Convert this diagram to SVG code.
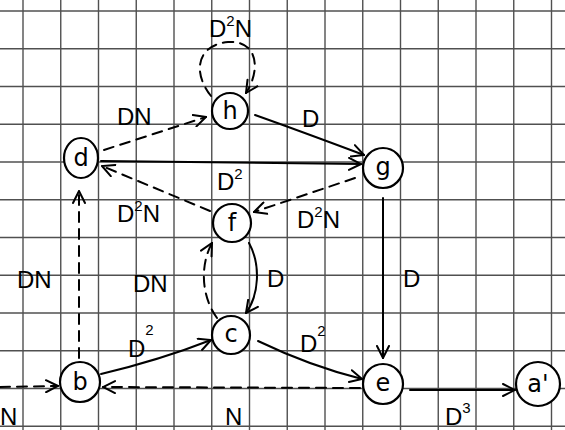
<svg xmlns="http://www.w3.org/2000/svg" width="565" height="430" viewBox="0 0 565 430">
<style>
.grid line{stroke:#505050;stroke-width:1.4}
.e{fill:none;stroke:#000;stroke-width:2;stroke-linecap:round}
.d{stroke-dasharray:10 7}
.a{marker-end:url(#ah)}
.node circle,.node ellipse{fill:#fff;stroke:#000;stroke-width:2.2}
.nl{font-family:"DejaVu Sans","Liberation Sans",sans-serif;font-size:24px;fill:#000;text-anchor:middle}
.lbl{font-family:"Liberation Sans","DejaVu Sans",sans-serif;font-size:24px;fill:#000}
.sup{font-size:15px}
</style>
<defs>
<marker id="ah" viewBox="0 0 14 14" refX="13" refY="7" markerWidth="14" markerHeight="14" markerUnits="userSpaceOnUse" orient="auto">
<path d="M1,1 L13,7 L1,13" fill="none" stroke="#000" stroke-width="2" stroke-dasharray="none" stroke-linecap="round"/>
</marker>
</defs>
<rect width="565" height="430" fill="#fff"/>
<g class="grid">
<line x1="0" y1="11" x2="565" y2="11"/>
<line x1="0" y1="48.75" x2="565" y2="48.75"/>
<line x1="0" y1="86.5" x2="565" y2="86.5"/>
<line x1="0" y1="124.25" x2="565" y2="124.25"/>
<line x1="0" y1="162" x2="565" y2="162"/>
<line x1="0" y1="199.75" x2="565" y2="199.75"/>
<line x1="0" y1="237.5" x2="565" y2="237.5"/>
<line x1="0" y1="275.25" x2="565" y2="275.25"/>
<line x1="0" y1="313" x2="565" y2="313"/>
<line x1="0" y1="350.75" x2="565" y2="350.75"/>
<line x1="0" y1="388.5" x2="565" y2="388.5"/>
<line x1="0" y1="426.25" x2="565" y2="426.25"/>
<line x1="23" y1="0" x2="23" y2="430"/>
<line x1="60.75" y1="0" x2="60.75" y2="430"/>
<line x1="98.5" y1="0" x2="98.5" y2="430"/>
<line x1="136.25" y1="0" x2="136.25" y2="430"/>
<line x1="174" y1="0" x2="174" y2="430"/>
<line x1="211.75" y1="0" x2="211.75" y2="430"/>
<line x1="249.5" y1="0" x2="249.5" y2="430"/>
<line x1="287.25" y1="0" x2="287.25" y2="430"/>
<line x1="325" y1="0" x2="325" y2="430"/>
<line x1="362.75" y1="0" x2="362.75" y2="430"/>
<line x1="400.5" y1="0" x2="400.5" y2="430"/>
<line x1="438.25" y1="0" x2="438.25" y2="430"/>
<line x1="476" y1="0" x2="476" y2="430"/>
<line x1="513.75" y1="0" x2="513.75" y2="430"/>
<line x1="551.5" y1="0" x2="551.5" y2="430"/>
</g>
<g id="connectors">
<path class="e d a" d="M211,96 C192,72 197,45 228,42 C258,40 261,70 246,93"/>
<path class="e d a" d="M104,150 L206,117"/>
<path class="e a" d="M255,115 Q300,131 364,155"/>
<path class="e a" d="M101,161 L361,164"/>
<path class="e d a" d="M355,178 L254,212"/>
<path class="e d a" d="M210,211 L102,166"/>
<path class="e d a" d="M79,358 L79,191"/>
<path class="e d a" d="M217,318 C201,296 200,265 212,243"/>
<path class="e a" d="M249,243 C261,265 259,295 246,313"/>
<path class="e a" d="M101,374 Q160,360 211,340"/>
<path class="e a" d="M258,341 Q310,366 362,379"/>
<path class="e a" d="M383,198 L383,358"/>
<path class="e d a" d="M360,388 L103,387"/>
<path class="e d a" d="M0,387 L58,386"/>
<path class="e a" d="M410,390 L515,390"/>
</g>
<g id="labels">
<text class="lbl" x="209" y="37">D<tspan class="sup" dy="-11">2</tspan><tspan dy="11">N</tspan></text>
<text class="lbl" x="117" y="125">DN</text>
<text class="lbl" x="302" y="127">D</text>
<text class="lbl" x="217" y="190">D<tspan class="sup" dy="-11">2</tspan></text>
<text class="lbl" x="117" y="222">D<tspan class="sup" dy="-11">2</tspan><tspan dy="11">N</tspan></text>
<text class="lbl" x="297" y="228">D<tspan class="sup" dy="-11">2</tspan><tspan dy="11">N</tspan></text>
<text class="lbl" x="17" y="288">DN</text>
<text class="lbl" x="133" y="292">DN</text>
<text class="lbl" x="267" y="287">D</text>
<text class="lbl" x="403" y="287">D</text>
<text class="lbl" x="128" y="357">D<tspan class="sup" dy="-22">2</tspan></text>
<text class="lbl" x="300" y="352">D<tspan class="sup" dy="-16">2</tspan></text>
<text class="lbl" x="225" y="425">N</text>
<text class="lbl" x="0" y="425">N</text>
<text class="lbl" x="445" y="425">D<tspan class="sup" dy="-12">3</tspan></text>
</g>
<g id="node-h" class="node"><circle cx="230" cy="111" r="18"/><text class="nl" x="230" y="119">h</text></g>
<g id="node-d" class="node"><ellipse cx="81" cy="158" rx="17" ry="20"/><text class="nl" x="81" y="166">d</text></g>
<g id="node-g" class="node"><circle cx="383" cy="168" r="20"/><text class="nl" x="383" y="175">g</text></g>
<g id="node-f" class="node"><circle cx="232" cy="223" r="19"/><text class="nl" x="232" y="231">f</text></g>
<g id="node-c" class="node"><circle cx="231" cy="335" r="19"/><text class="nl" x="231" y="342">c</text></g>
<g id="node-b" class="node"><circle cx="80" cy="382" r="20"/><text class="nl" x="80" y="390">b</text></g>
<g id="node-e" class="node"><circle cx="383" cy="384" r="20"/><text class="nl" x="383" y="391">e</text></g>
<g id="node-a" class="node"><circle cx="538" cy="384" r="22"/><text class="nl" x="538" y="392">a'</text></g>
</svg>
